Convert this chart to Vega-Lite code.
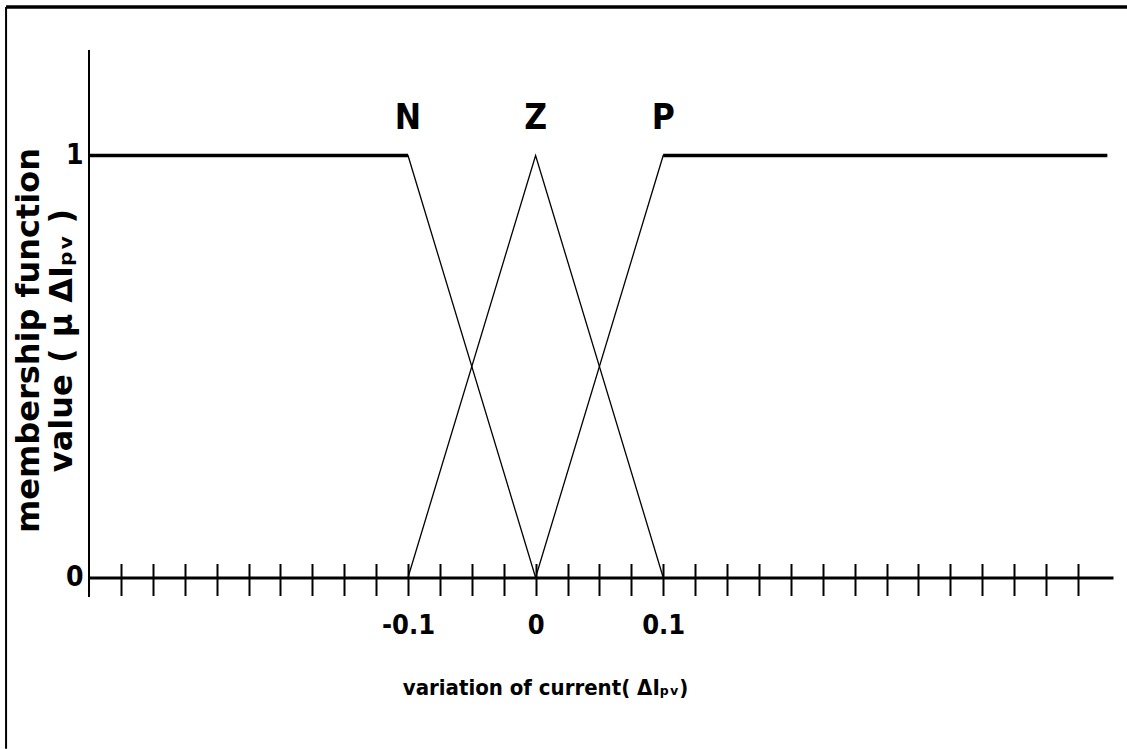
{
  "$schema": "https://vega.github.io/schema/vega-lite/v6.json",
  "width": 1024,
  "height": 527.5,
  "autosize": "none",
  "padding": {"left": 89, "top": 50, "right": 14, "bottom": 171.5},
  "background": "white",
  "config": {
    "view": {"stroke": null},
    "axis": {"grid": false, "labelColor": "black", "titleColor": "black"}
  },
  "datasets": {
    "membership": [
      {"set": "N", "x": -0.35, "mu": 1},
      {"set": "N", "x": -0.1, "mu": 1},
      {"set": "N", "x": 0, "mu": 0},
      {"set": "Z", "x": -0.1, "mu": 0},
      {"set": "Z", "x": 0, "mu": 1},
      {"set": "Z", "x": 0.1, "mu": 0},
      {"set": "P", "x": 0, "mu": 0},
      {"set": "P", "x": 0.1, "mu": 1},
      {"set": "P", "x": 0.448, "mu": 1}
    ],
    "shoulders": [
      {"set": "N", "x": -0.35, "x2": -0.1, "mu": 1},
      {"set": "P", "x": 0.1, "x2": 0.448, "mu": 1}
    ],
    "setLabels": [
      {"label": "N", "x": -0.1, "mu": 1},
      {"label": "Z", "x": 0, "mu": 1},
      {"label": "P", "x": 0.1, "mu": 1}
    ],
    "yAxisLine": [
      {"x": -0.35, "mu": -0.046, "mu2": 1.25}
    ],
    "frameTop": [
      {"x": -0.415, "x2": 0.4635, "mu": 1.352}
    ],
    "frameLeft": [
      {"x": -0.415, "mu": -0.406, "mu2": 1.352}
    ]
  },
  "layer": [
    {
      "data": {"name": "yAxisLine"},
      "mark": {"type": "rule", "color": "black", "strokeWidth": 2},
      "encoding": {
        "x": {"field": "x", "type": "quantitative", "axis": null,
              "scale": {"domain": [-0.35, 0.4525], "nice": false, "zero": false}},
        "y": {
          "field": "mu",
          "type": "quantitative",
          "scale": {"domain": [0, 1.25], "nice": false, "zero": false},
          "axis": {
            "orient": "left",
            "values": [0, 1],
            "format": "d",
            "domain": false,
            "ticks": false,
            "labelPadding": 6,
            "labelFont": "DejaVu Sans Condensed",
            "labelFontWeight": "bold",
            "labelFontSize": 28,
            "labelBaseline": "middle",
            "title": ["membership function", "value ( μ ΔIₚᵥ )"],
            "titleFont": "DejaVu Sans",
            "titleFontWeight": "bold",
            "titleFontSize": 32,
            "titleLineHeight": 33,
            "titleAngle": 270,
            "titleAlign": "center",
            "titleBaseline": "middle",
            "titleX": -61,
            "titleY": 290
          }
        },
        "y2": {"field": "mu2"}
      }
    },
    {
      "data": {"name": "membership"},
      "mark": {"type": "line", "color": "black", "strokeWidth": 1.3},
      "encoding": {
        "x": {
          "field": "x",
          "type": "quantitative",
          "axis": {
            "orient": "bottom",
            "offset": -14,
            "tickSize": 32,
            "tickWidth": 2,
            "tickColor": "black",
            "domain": false,
            "labels": false,
            "title": null,
            "values": [-0.325, -0.3, -0.275, -0.25, -0.225, -0.2, -0.175, -0.15, -0.125, -0.1, -0.075, -0.05, -0.025, 0, 0.025, 0.05, 0.075, 0.1, 0.125, 0.15, 0.175, 0.2, 0.225, 0.25, 0.275, 0.3, 0.325, 0.35, 0.375, 0.4, 0.425]
          }
        },
        "y": {"field": "mu", "type": "quantitative", "axis": null},
        "detail": {"field": "set"}
      }
    },
    {
      "data": {"name": "shoulders"},
      "mark": {"type": "rule", "color": "black", "strokeWidth": 3.5},
      "encoding": {
        "x": {
          "field": "x",
          "type": "quantitative",
          "axis": {
            "orient": "bottom",
            "values": [-0.1, 0, 0.1],
            "ticks": false,
            "tickSize": 0,
            "domain": true,
            "domainWidth": 3,
            "domainColor": "black",
            "labelPadding": 35,
            "labelFont": "DejaVu Sans Condensed",
            "labelFontWeight": "bold",
            "labelFontSize": 27,
            "labelExpr": "datum.value == 0 ? '0' : (datum.value < 0 ? '-0.1' : '0.1')",
            "title": "variation of current( ΔIₚᵥ)",
            "titleFont": "DejaVu Sans Condensed",
            "titleFontWeight": "bold",
            "titleFontSize": 22,
            "titleAlign": "center",
            "titleBaseline": "alphabetic",
            "titleX": 456,
            "titleY": 117
          }
        },
        "x2": {"field": "x2"},
        "y": {"field": "mu", "type": "quantitative", "axis": null}
      }
    },
    {
      "data": {"name": "setLabels"},
      "mark": {
        "type": "text",
        "color": "black",
        "baseline": "bottom",
        "align": "center",
        "dy": -20,
        "fontSize": 35,
        "fontWeight": "bold",
        "font": "DejaVu Sans Condensed"
      },
      "encoding": {
        "x": {"field": "x", "type": "quantitative", "axis": null},
        "y": {"field": "mu", "type": "quantitative", "axis": null},
        "text": {"field": "label"}
      }
    },
    {
      "data": {"name": "frameTop"},
      "mark": {"type": "rule", "color": "black", "strokeWidth": 3.5},
      "encoding": {
        "x": {"field": "x", "type": "quantitative", "axis": null},
        "x2": {"field": "x2"},
        "y": {"field": "mu", "type": "quantitative", "axis": null}
      }
    },
    {
      "data": {"name": "frameLeft"},
      "mark": {"type": "rule", "color": "black", "strokeWidth": 2},
      "encoding": {
        "x": {"field": "x", "type": "quantitative", "axis": null},
        "y": {"field": "mu", "type": "quantitative", "axis": null},
        "y2": {"field": "mu2"}
      }
    }
  ],
  "resolve": {"axis": {"x": "independent", "y": "independent"}}
}
